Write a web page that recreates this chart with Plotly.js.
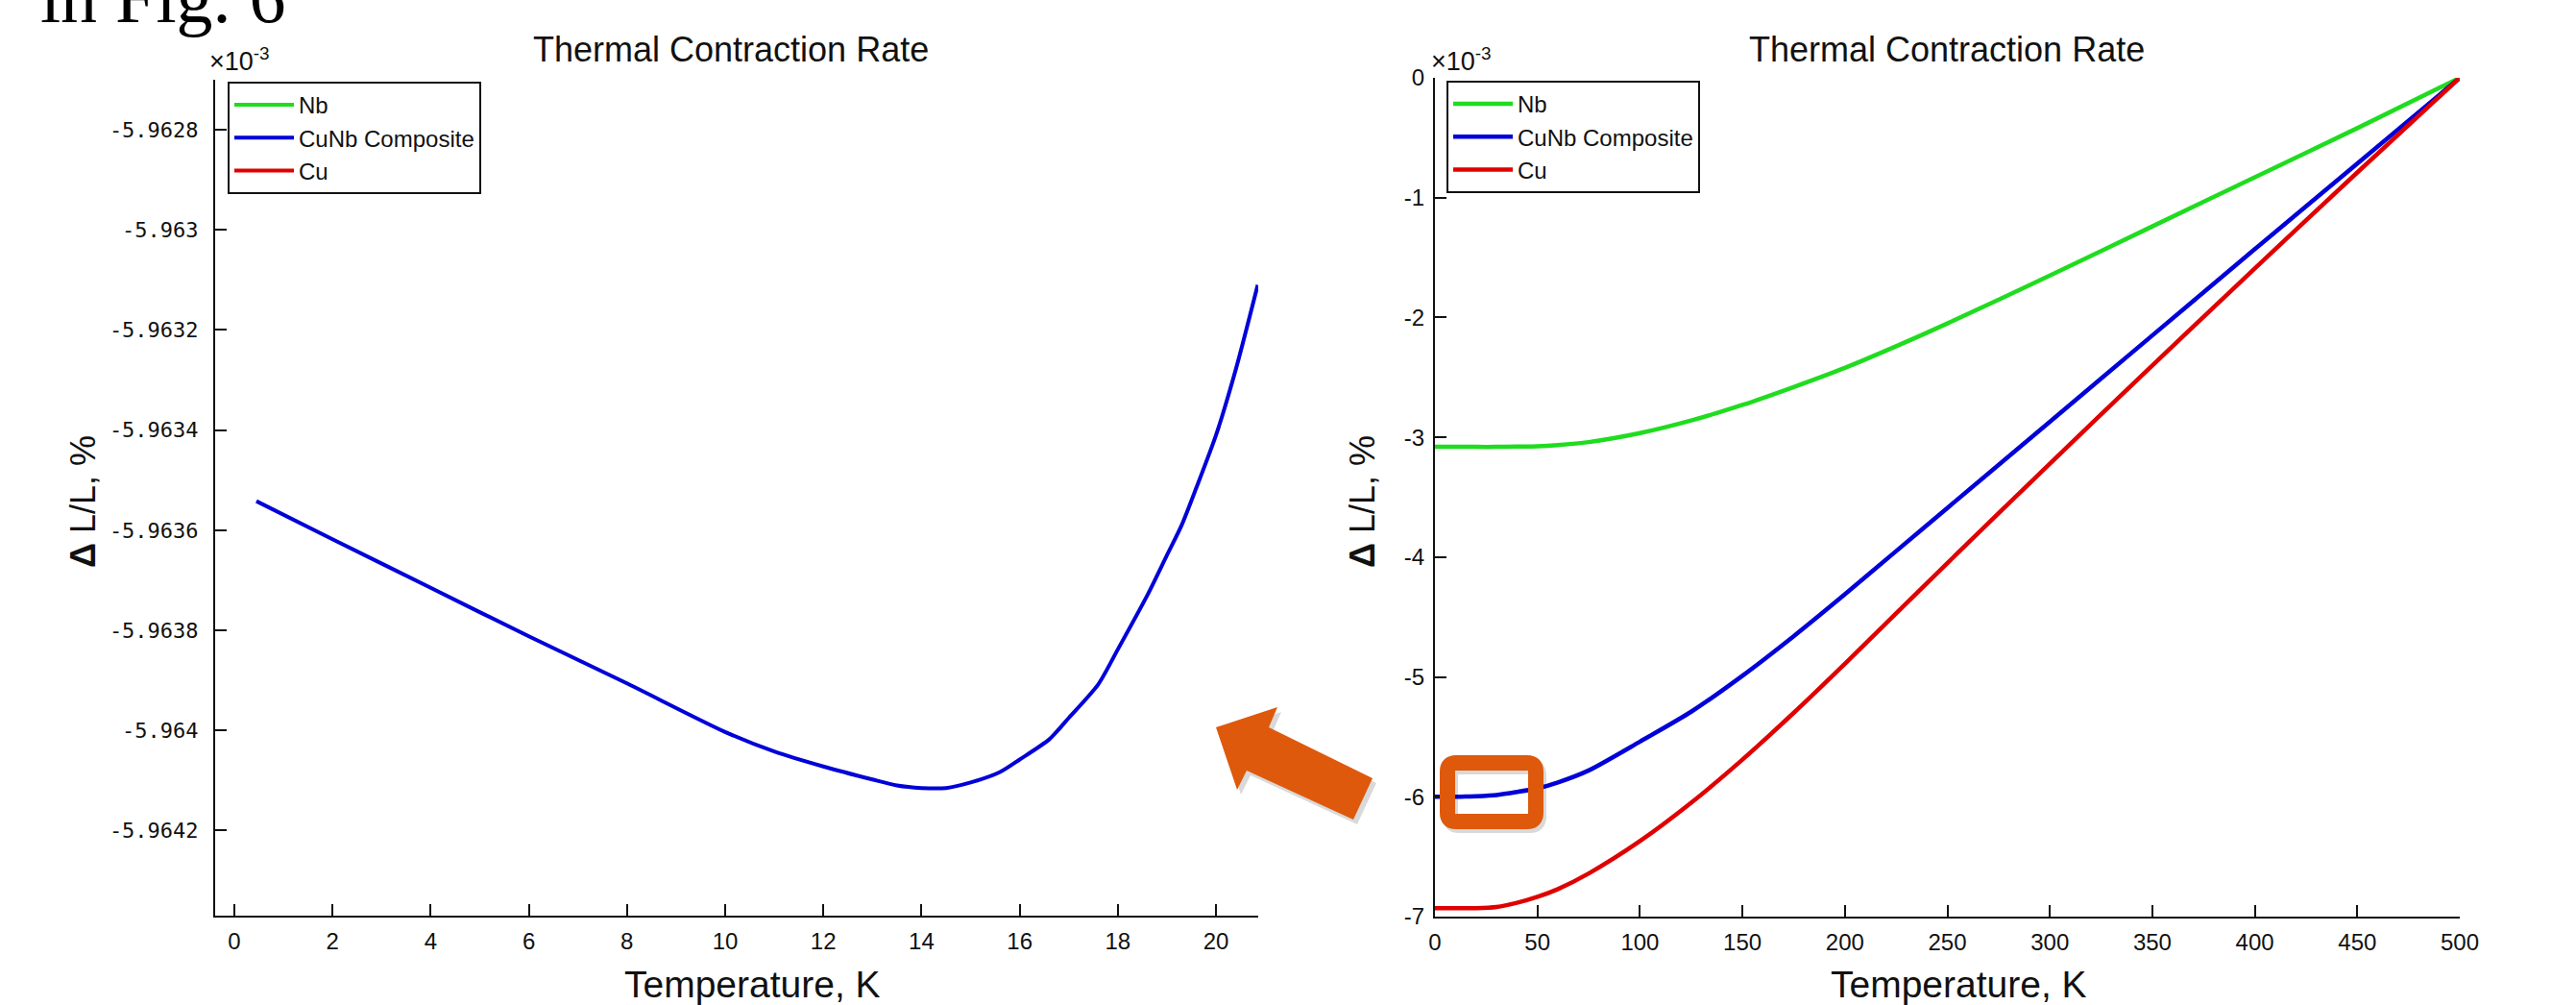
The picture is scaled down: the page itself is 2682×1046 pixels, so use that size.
<!DOCTYPE html>
<html>
<head>
<meta charset="utf-8">
<script src="https://cdn.plot.ly/plotly-3.0.1.min.js"></script>
<style>html,body{margin:0;padding:0;background:#fff;}#chart{width:2682px;height:1046px;}</style>
</head>
<body>
<div id="chart"></div>
<script>
// ---------- data ----------
// full-range curves (right panel), ΔL/L in units of 1e-3 %
const temperature = [0, 10, 20, 30, 40, 50, 60, 75, 100, 125, 150, 175, 200, 225, 250, 300, 350, 400, 450, 500];
const nbValues = [-3.08, -3.08, -3.08, -3.08, -3.078, -3.075, -3.065, -3.04, -2.965, -2.86, -2.73, -2.58, -2.42, -2.24, -2.05, -1.65, -1.24, -0.83, -0.42, 0];
const compositeValues = [-6.0, -6.0, -5.995, -5.985, -5.96, -5.93, -5.88, -5.78, -5.54, -5.29, -4.99, -4.66, -4.31, -3.95, -3.59, -2.87, -2.15, -1.43, -0.715, 0];
const cuValues = [-6.93, -6.93, -6.93, -6.92, -6.885, -6.835, -6.77, -6.64, -6.37, -6.05, -5.69, -5.30, -4.89, -4.47, -4.05, -3.22, -2.40, -1.59, -0.79, 0];

// zoomed composite curve (left panel), 0-21 K
const zoomTemperature = [0.45, 2, 4, 6, 8, 10, 11, 12, 13, 13.5, 14, 14.5, 15, 15.6, 16, 16.6, 17, 17.6, 18, 18.6, 19, 19.3, 19.6, 20, 20.4, 20.85];
const zoomComposite = [-5.963542, -5.963618, -5.963715, -5.963812, -5.963906, -5.964003, -5.964042, -5.964072, -5.964098, -5.964110, -5.964115, -5.964115, -5.964104, -5.964083, -5.964058, -5.964018, -5.963975, -5.963908, -5.963838, -5.963730, -5.963650, -5.963590, -5.963515, -5.963410, -5.963280, -5.963110];

// tick labels
const zoomXTicks = [0, 2, 4, 6, 8, 10, 12, 14, 16, 18, 20];
const zoomYTicks = [-5.9628, -5.963, -5.9632, -5.9634, -5.9636, -5.9638, -5.964, -5.9642];
const zoomYLabels = ['-5.9628', '-5.963', '-5.9632', '-5.9634', '-5.9636', '-5.9638', '-5.964', '-5.9642'];
const fullXTicks = [0, 50, 100, 150, 200, 250, 300, 350, 400, 450, 500];
const fullYTicks = [0, -1, -2, -3, -4, -5, -6, -7];
const fullYLabels = ['0', '-1', '-2', '-3', '-4', '-5', '-6', '-7'];

const seriesNames = ['Nb', 'CuNb Composite', 'Cu'];
const seriesColors = ['#1fdc1f', '#0000d8', '#e00000'];

// ---------- layout helpers ----------
const W = 2682, H = 1046;
const px = x => x / W;
const py = y => 1 - y / H;

const SANS = 'Liberation Sans, Arial, sans-serif';
const ORANGE = '#de590b';

function axisBase(extra) {
  return Object.assign({
    showgrid: false, zeroline: false, showline: true,
    linecolor: '#111', linewidth: 2,
    ticks: 'inside', ticklen: 12, tickwidth: 2, tickcolor: '#111',
    mirror: false, fixedrange: true,
    tickfont: {family: SANS, size: 24, color: '#111'}
  }, extra);
}

const smooth = {shape: 'spline', smoothing: 0.7};
const traces = [
  // left panel (zoom): all three series exist, only the composite falls inside the window
  {x: temperature, y: nbValues, xaxis: 'x', yaxis: 'y', name: seriesNames[0], legend: 'legend', legendgroup: 'a',
   mode: 'lines', line: {color: seriesColors[0], width: 4}},
  {x: zoomTemperature, y: zoomComposite, xaxis: 'x', yaxis: 'y', name: seriesNames[1], legend: 'legend', legendgroup: 'b',
   mode: 'lines', line: Object.assign({color: seriesColors[1], width: 4}, smooth)},
  {x: temperature, y: cuValues, xaxis: 'x', yaxis: 'y', name: seriesNames[2], legend: 'legend', legendgroup: 'c',
   mode: 'lines', line: {color: seriesColors[2], width: 4}},
  // right panel (full range)
  {x: temperature, y: nbValues, xaxis: 'x2', yaxis: 'y2', name: seriesNames[0], legend: 'legend2', legendgroup: 'd',
   mode: 'lines', line: Object.assign({color: seriesColors[0], width: 4.5}, smooth)},
  {x: temperature, y: compositeValues, xaxis: 'x2', yaxis: 'y2', name: seriesNames[1], legend: 'legend2', legendgroup: 'e',
   mode: 'lines', line: Object.assign({color: seriesColors[1], width: 4.5}, smooth)},
  {x: temperature, y: cuValues, xaxis: 'x2', yaxis: 'y2', name: seriesNames[2], legend: 'legend2', legendgroup: 'f',
   mode: 'lines', line: Object.assign({color: seriesColors[2], width: 4.5}, smooth)}
];

const legendStyle = (x, y) => ({
  x: x, y: y, xanchor: 'left', yanchor: 'top',
  bgcolor: '#fff', bordercolor: '#111', borderwidth: 2,
  font: {family: SANS, size: 24, color: '#111'},
  itemwidth: 62, tracegroupgap: 12, traceorder: 'normal',
  entrywidth: 203, entrywidthmode: 'pixels'
});

function roundedRect(x0, y0, x1, y1, r) {
  const X = v => px(v), Y = v => py(v);
  return 'M' + X(x0 + r) + ',' + Y(y0) + ' L' + X(x1 - r) + ',' + Y(y0) +
    ' Q' + X(x1) + ',' + Y(y0) + ' ' + X(x1) + ',' + Y(y0 + r) +
    ' L' + X(x1) + ',' + Y(y1 - r) +
    ' Q' + X(x1) + ',' + Y(y1) + ' ' + X(x1 - r) + ',' + Y(y1) +
    ' L' + X(x0 + r) + ',' + Y(y1) +
    ' Q' + X(x0) + ',' + Y(y1) + ' ' + X(x0) + ',' + Y(y1 - r) +
    ' L' + X(x0) + ',' + Y(y0 + r) +
    ' Q' + X(x0) + ',' + Y(y0) + ' ' + X(x0 + r) + ',' + Y(y0) + ' Z';
}
function polygon(pts, dx, dy) {
  return pts.map((p, i) => (i ? 'L' : 'M') + px(p[0] + dx) + ',' + py(p[1] + dy)).join(' ') + ' Z';
}
const arrowPts = [[1266, 757], [1330, 736], [1321, 757], [1429, 810], [1409, 853], [1298, 802], [1288, 822]];

const layout = {
  width: W, height: H,
  margin: {l: 0, r: 0, t: 0, b: 0},
  paper_bgcolor: '#fff', plot_bgcolor: '#fff',
  showlegend: true,
  xaxis: axisBase({domain: [px(224), px(1310)], range: [-0.39, 20.86], tickvals: zoomXTicks, anchor: 'y',
    ticklabelstandoff: 4}),
  yaxis: axisBase({domain: [py(953), py(83)], range: [-5.96437, -5.9627], tickvals: zoomYTicks, ticktext: zoomYLabels,
    anchor: 'x', ticklabelstandoff: 11, tickfont: {family: 'DejaVu Sans Mono, monospace', size: 22, color: '#111'}}),
  xaxis2: axisBase({domain: [px(1494), px(2561)], range: [0, 500], tickvals: fullXTicks, anchor: 'y2',
    ticklabelstandoff: 4}),
  yaxis2: axisBase({domain: [py(954), py(81)], range: [-7, 0], tickvals: fullYTicks, ticktext: fullYLabels,
    anchor: 'x2', ticklabelstandoff: 4}),
  legend: legendStyle(px(237), py(85)),
  legend2: legendStyle(px(1506), py(84)),
  annotations: [
    {text: 'in Fig. 6', xref: 'paper', yref: 'paper', x: px(40), y: py(-3), xanchor: 'left', yanchor: 'middle',
     showarrow: false, font: {family: 'Liberation Serif, serif', size: 76, color: '#000'}},
    {text: 'Thermal Contraction Rate', xref: 'paper', yref: 'paper', x: px(761), y: py(51), xanchor: 'center', yanchor: 'middle',
     showarrow: false, font: {family: SANS, size: 36, color: '#111'}},
    {text: 'Thermal Contraction Rate', xref: 'paper', yref: 'paper', x: px(2027), y: py(51), xanchor: 'center', yanchor: 'middle',
     showarrow: false, font: {family: SANS, size: 36, color: '#111'}},
    {text: 'Temperature, K', xref: 'paper', yref: 'paper', x: px(783), y: py(1024), xanchor: 'center', yanchor: 'middle',
     showarrow: false, font: {family: SANS, size: 39, color: '#111'}},
    {text: 'Temperature, K', xref: 'paper', yref: 'paper', x: px(2039), y: py(1024), xanchor: 'center', yanchor: 'middle',
     showarrow: false, font: {family: SANS, size: 39, color: '#111'}},
    {text: '<b>Δ</b> L/L, %', xref: 'paper', yref: 'paper', x: px(86), y: py(522), xanchor: 'center', yanchor: 'middle',
     textangle: -90, showarrow: false, font: {family: SANS, size: 36, color: '#111'}},
    {text: '<b>Δ</b> L/L, %', xref: 'paper', yref: 'paper', x: px(1418), y: py(522), xanchor: 'center', yanchor: 'middle',
     textangle: -90, showarrow: false, font: {family: SANS, size: 36, color: '#111'}},
    {text: '×10<sup>-3</sup>', xref: 'paper', yref: 'paper', x: px(216), y: py(62), xanchor: 'left', yanchor: 'middle',
     showarrow: false, font: {family: SANS, size: 27, color: '#111'}},
    {text: '×10<sup>-3</sup>', xref: 'paper', yref: 'paper', x: px(1488), y: py(62), xanchor: 'left', yanchor: 'middle',
     showarrow: false, font: {family: SANS, size: 27, color: '#111'}}
  ],
  shapes: [
    {type: 'path', xref: 'paper', yref: 'paper', path: polygon(arrowPts, 4, 5),
     fillcolor: 'rgba(0,0,0,0.15)', line: {width: 0}},
    {type: 'path', xref: 'paper', yref: 'paper', path: polygon(arrowPts, 0, 0),
     fillcolor: ORANGE, line: {width: 0}},
    {type: 'path', xref: 'paper', yref: 'paper', path: roundedRect(1510, 798, 1602, 859, 9),
     line: {color: 'rgba(0,0,0,0.15)', width: 16}},
    {type: 'path', xref: 'paper', yref: 'paper', path: roundedRect(1507, 794, 1599, 855, 9),
     line: {color: ORANGE, width: 16}}
  ]
};

Plotly.newPlot('chart', traces, layout, {staticPlot: true, displayModeBar: false});
</script>
</body>
</html>
